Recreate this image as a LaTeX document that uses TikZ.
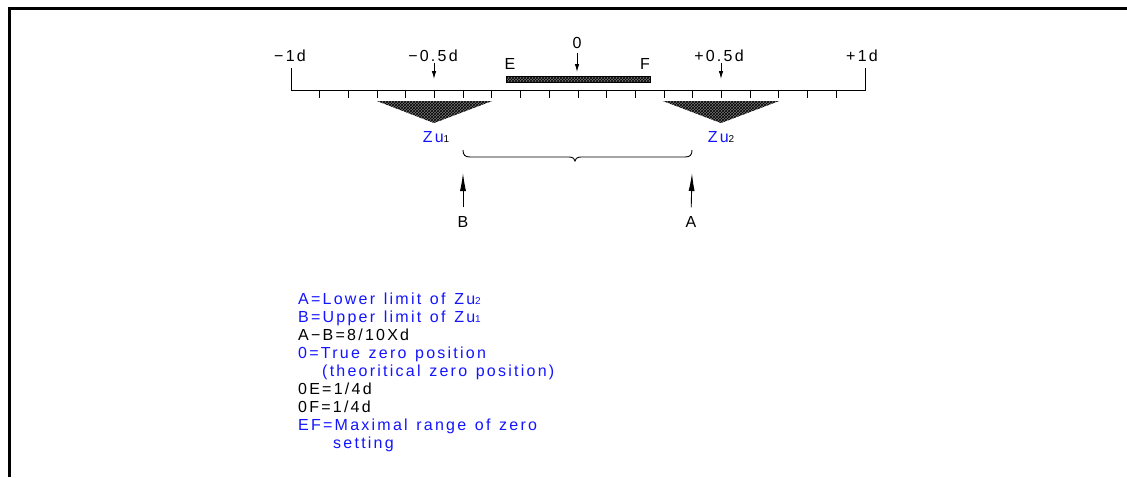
\documentclass[tikz,border=0pt]{standalone}
\usepackage{fontspec}
\setmainfont{Liberation Sans}
\newfontfamily\cad[LetterSpace=14,WordSpace=1.3]{Liberation Sans}
\usetikzlibrary{patterns,arrows.meta}
\definecolor{cadblue}{RGB}{20,20,255}
\newcommand{\subdig}[1]{{\fontsize{10}{10}\selectfont #1}}
\begin{document}
\begin{tikzpicture}[x=1pt,y=-1pt,
  txt/.style={font=\cad\fontsize{16}{16}\selectfont, inner sep=0pt},
  leg/.style={txt, anchor=base west},
  blu/.style={text=cadblue},
  darr/.style={-{Latex[length=8pt,width=4.5pt]}, line width=0.9pt},
  uarr/.style={-{Latex[length=18pt,width=6pt]}, line width=0.9pt},
  hatch/.style={fill=black!55, postaction={pattern=crosshatch, pattern color=black}},
  ruler/.style={line width=0.9pt}]
\useasboundingbox (0,0) rectangle (1127,477);
\draw[line width=3pt] (9,477) -- (9,8.5) -- (1127,8.5);
% ruler
\draw[ruler] (291,68) -- (291,90) -- (865,90) -- (865,68);
\foreach \i in {1,...,19} \draw[ruler] ({291+\i*28.7},90) -- ++(0,8);
% EF bar
\path[hatch] (506,76) rectangle (650,82);
\draw[line width=0.6pt] (506,76) rectangle (650,82);
% Zu triangles
\path[hatch] (377,101) -- (492,101) -- (434,123) -- cycle;
\path[hatch] (663,101) -- (779,101) -- (721,123) -- cycle;
% labels on top
\node[txt] (m1) at (290,56) {−1d};
\node[txt] (mh) at (433,56) {−0.5d};
\node[txt] (ph) at (719,56) {+0.5d};
\node[txt] (p1) at (862,56) {+1d};
\node[txt] (O) at (577,43) {0};
\node[txt] (E) at (510,64) {E};
\node[txt] (F) at (645,64) {F};
\coordinate (tmh) at (434,79);
\coordinate (tph) at (721,79);
\coordinate (tO) at (577,72);
\draw[darr] (mh.south) ++(1,0.5) -- (tmh);
\draw[darr] (ph.south) ++(2,0.5) -- (tph);
\draw[darr, shorten <=4pt] (O.south) -- (tO);
% Zu labels
\node[txt] (Z1) at (436,137) {\textcolor{cadblue}{Zu}\subdig{1}};
\node[txt] (Z2) at (721,137) {\textcolor{cadblue}{Zu}\subdig{2}};
% brace
\draw[line width=0.9pt] (463,150) .. controls (463,155) and (465,157) .. (470,157) -- (569,157)
  .. controls (573,157) and (575,159) .. (575,161)
  .. controls (575,159) and (577,157) .. (581,157) -- (685,157)
  .. controls (690,157) and (692,155) .. (692,150);
% A / B
\node[txt] (B) at (463,222) {B};
\node[txt] (A) at (691,222) {A};
\coordinate (Bt) at (463,173);
\coordinate (At) at (692,173);
\draw[uarr, shorten <=9pt] (B.north) -- (Bt);
\draw[uarr, shorten <=9pt] (A.north) -- (At);
% legend
\node[leg, blu] (l1) at (298,304) {A=Lower limit of Zu\subdig{2}};
\node[leg, blu] (l2) at (298,322) {B=Upper limit of Zu\subdig{1}};
\node[leg] (l3) at (298,340) {A−B=8/10Xd};
\node[leg, blu] (l4) at (298,358) {0=True zero position};
\node[leg, blu] (l5) at (322,376) {(theoritical zero position)};
\node[leg] (l6) at (298,394) {0E=1/4d};
\node[leg] (l7) at (298,412) {0F=1/4d};
\node[leg, blu] (l8) at (298,430) {EF=Maximal range of zero};
\node[leg, blu] (l9) at (333,448) {setting};
\end{tikzpicture}
\end{document}
